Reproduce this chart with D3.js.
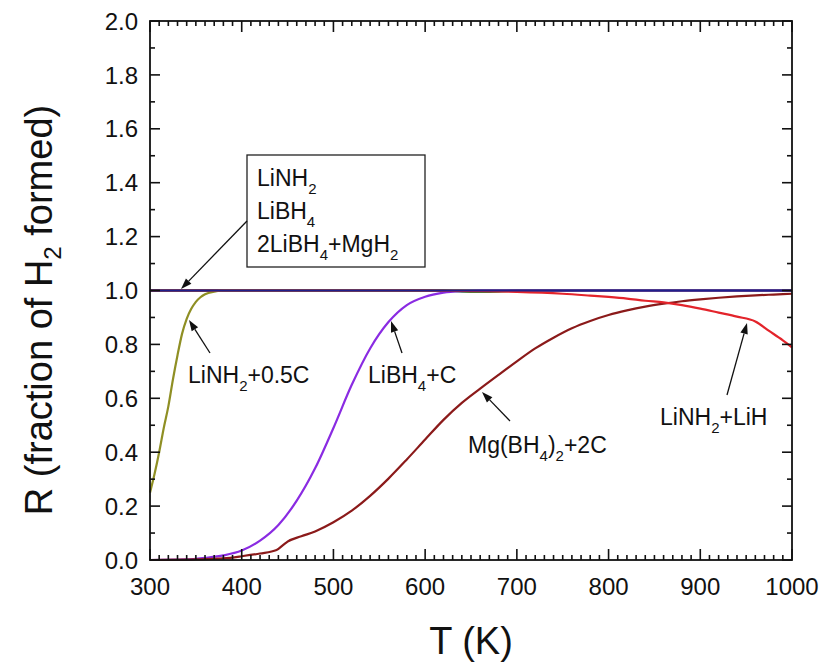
<!DOCTYPE html>
<html>
<head>
<meta charset="utf-8">
<script src="https://cdn.jsdelivr.net/npm/d3@7"></script>
<style>
  body { margin: 0; background: #fff; }
  svg { position: absolute; left: 0; top: 0; }
  text { font-family: "Liberation Sans", Arial, sans-serif; fill: #111; }
</style>
</head>
<body>
<svg id="chart"></svg>
<svg id="frame"></svg>
<script>
const width = 836;
const height = 664;
const margin = { top: 21, right: 44, bottom: 104, left: 150 };

// data
const xTicks = [300, 400, 500, 600, 700, 800, 900, 1000];
const yTicks = [0, 0.2, 0.4, 0.6, 0.8, 1.0, 1.2, 1.4, 1.6, 1.8, 2.0];

const tFlat = [300, 1000];
const rFlat = [1.0, 1.0];

const tGreen = [300, 620, 640, 660, 680, 700, 1000];
const rGreen = [1.0, 1.0, 0.996, 0.995, 0.996, 1.0, 1.0];

const tOlive = [300, 305, 310, 315, 320, 325, 330, 335, 340, 345, 350, 355, 360, 370, 380, 400, 1000];
const rOlive = [0.25, 0.32, 0.40, 0.49, 0.57, 0.67, 0.76, 0.84, 0.895, 0.932, 0.958, 0.975, 0.986, 0.996, 1.0, 1.0, 1.0];

const tPurple = [300, 340, 360, 380, 400, 420, 440, 460, 480, 500, 520, 540, 560, 580, 600, 620, 640, 660, 1000];
const rPurple = [0, 0.002, 0.008, 0.017, 0.035, 0.072, 0.13, 0.22, 0.34, 0.49, 0.65, 0.785, 0.883, 0.946, 0.977, 0.992, 0.998, 1.0, 1.0];

const tMaroon = [300, 350, 380, 400, 420, 438, 445, 450, 465, 480, 500, 520, 540, 560, 580, 600, 620, 640, 660, 680, 700, 720, 740, 760, 780, 800, 820, 840, 860, 880, 900, 920, 940, 960, 980, 1000];
const rMaroon = [0, 0.002, 0.006, 0.014, 0.024, 0.037, 0.055, 0.068, 0.088, 0.106, 0.14, 0.183, 0.238, 0.302, 0.373, 0.447, 0.52, 0.583, 0.636, 0.687, 0.737, 0.785, 0.825, 0.86, 0.887, 0.909, 0.926, 0.94, 0.951, 0.96, 0.967, 0.973, 0.978, 0.982, 0.985, 0.988];

const tRed = [300, 600, 650, 700, 750, 780, 800, 820, 840, 860, 880, 900, 920, 940, 960, 975, 990, 1000];
const rRed = [1.0, 1.0, 0.998, 0.995, 0.988, 0.981, 0.976, 0.97, 0.962, 0.956, 0.946, 0.933, 0.918, 0.903, 0.885, 0.85, 0.815, 0.789];

const series = [
    { t: tGreen, r: rGreen, color: "#2e8b3a" },
    { t: tFlat, r: rFlat, color: "#111111" },
    { t: tOlive, r: rOlive, color: "#8f8f24" },
    { t: tPurple, r: rPurple, color: "#8a2be2" },
    { t: tMaroon, r: rMaroon, color: "#8b1a1a" },
    { t: tRed, r: rRed, color: "#e3242b" },
    { t: tFlat, r: rFlat, color: "#1f1f8c" }
];

const svg = d3.select("#chart")
    .attr("width", width)
    .attr("height", height);

const x = d3.scaleLinear().domain([300, 1000]).range([margin.left, width - margin.right]);
const y = d3.scaleLinear().domain([0, 2]).range([height - margin.bottom, margin.top]);

const bottom = height - margin.bottom;
const right = width - margin.right;

// curves
const curve = d3.line()
    .x(d => x(d[0]))
    .y(d => y(d[1]))
    .curve(d3.curveMonotoneX);

svg.append("g")
    .selectAll("path")
    .data(series)
    .enter().append("path")
    .attr("d", s => curve(s.t.map((t, i) => [t, s.r[i]])))
    .attr("fill", "none")
    .attr("stroke", s => s.color)
    .attr("stroke-width", 2.2);

// tick labels
svg.append("g").selectAll("text")
    .data(xTicks).enter().append("text")
    .attr("x", d => x(d)).attr("y", bottom + 35)
    .attr("text-anchor", "middle")
    .style("font-size", "24px")
    .text(d => d);

svg.append("g").selectAll("text")
    .data(yTicks).enter().append("text")
    .attr("x", margin.left - 12).attr("y", d => y(d))
    .attr("dy", "0.36em")
    .attr("text-anchor", "end")
    .style("font-size", "24px")
    .text(d => d.toFixed(1));

// axis titles
svg.append("text")
    .attr("x", 471).attr("y", 654)
    .attr("text-anchor", "middle")
    .style("font-size", "38px")
    .text("T (K)");

const yTitle = svg.append("text")
    .attr("transform", "rotate(-90)")
    .attr("x", -310).attr("y", 52)
    .attr("text-anchor", "middle")
    .style("font-size", "38px");
yTitle.append("tspan").text("R (fraction of H");
yTitle.append("tspan").attr("dy", 9).style("font-size", "24px").text("2");
yTitle.append("tspan").attr("dy", -9).text(" formed)");

// chemical label: parts as [text, isSubscript]
function chem(g, parts, px, py) {
    const t = g.append("text").attr("x", px).attr("y", py).style("font-size", "23px");
    let low = false;
    parts.forEach(([s, sub]) => {
        const span = t.append("tspan").text(s);
        if (sub) span.style("font-size", "15px");
        if (sub && !low) span.attr("dy", 8);
        if (!sub && low) span.attr("dy", -8);
        low = sub;
    });
    return t;
}

const notes = svg.append("g");

notes.append("rect")
    .attr("x", 247).attr("y", 155)
    .attr("width", 178).attr("height", 112)
    .attr("fill", "#fff").attr("stroke", "#222").attr("stroke-width", 1.3);

chem(notes, [["LiNH", false], ["2", true]], 257, 186);
chem(notes, [["LiBH", false], ["4", true]], 257, 219);
chem(notes, [["2LiBH", false], ["4", true], ["+MgH", false], ["2", true]], 257, 252);

chem(notes, [["LiNH", false], ["2", true], ["+0.5C", false]], 188, 383);
chem(notes, [["LiBH", false], ["4", true], ["+C", false]], 368, 383);
chem(notes, [["Mg(BH", false], ["4", true], [")", false], ["2", true], ["+2C", false]], 468, 453);
chem(notes, [["LiNH", false], ["2", true], ["+LiH", false]], 660, 425);

const arrows = [
    [247, 221, 181, 289],
    [210, 353, 189, 320],
    [402, 353, 391, 321],
    [510, 421, 482, 392],
    [727, 395, 747, 323]
];

// arrow shafts stop at the head; heads are small filled triangles
function headPoints(d) {
    const dx = d[2] - d[0], dy = d[3] - d[1];
    const L = Math.hypot(dx, dy), ux = dx / L, uy = dy / L;
    const bx = d[2] - 11 * ux, by = d[3] - 11 * uy;
    return [[d[2], d[3]], [bx - 3.8 * uy, by + 3.8 * ux], [bx + 3.8 * uy, by - 3.8 * ux]];
}

notes.selectAll("line.arrow")
    .data(arrows).enter().append("line")
    .attr("class", "arrow")
    .attr("x1", d => d[0]).attr("y1", d => d[1])
    .attr("x2", d => headPoints(d)[1][0] * 0.5 + headPoints(d)[2][0] * 0.5)
    .attr("y2", d => headPoints(d)[1][1] * 0.5 + headPoints(d)[2][1] * 0.5)
    .attr("stroke", "#111").attr("stroke-width", 1.3);

notes.selectAll("polygon.head")
    .data(arrows).enter().append("polygon")
    .attr("class", "head")
    .attr("points", d => headPoints(d).map(p => p.join(",")).join(" "))
    .attr("fill", "#111");

// frame and inward ticks on all four sides, in their own overlay svg
const frame = d3.select("#frame")
    .attr("width", width)
    .attr("height", height)
    .style("pointer-events", "none");

const xMinor = d3.range(300, 1001, 10).filter(v => v % 100 !== 0);
const yMinor = d3.range(1, 20, 2).map(v => v / 10);

frame.append("rect")
    .attr("x", margin.left).attr("y", margin.top)
    .attr("width", right - margin.left).attr("height", bottom - margin.top)
    .attr("fill", "none").attr("stroke", "#111").attr("stroke-width", 1.8);

const tickData = [];
xTicks.forEach(v => tickData.push({ side: "x", v: v, len: 11 }));
xMinor.forEach(v => tickData.push({ side: "x", v: v, len: 5 }));
yTicks.forEach(v => tickData.push({ side: "y", v: v, len: 10 }));
yMinor.forEach(v => tickData.push({ side: "y", v: v, len: 5 }));

const tickLayer = frame.append("g");
tickLayer.selectAll("line.tkA")
    .data(tickData).enter().append("line")
    .attr("class", "tkA")
    .attr("x1", d => d.side === "x" ? x(d.v) : margin.left)
    .attr("x2", d => d.side === "x" ? x(d.v) : margin.left + d.len)
    .attr("y1", d => d.side === "x" ? bottom : y(d.v))
    .attr("y2", d => d.side === "x" ? bottom - d.len : y(d.v))
    .attr("stroke", "#111").attr("stroke-width", 1.6);
tickLayer.selectAll("line.tkB")
    .data(tickData).enter().append("line")
    .attr("class", "tkB")
    .attr("x1", d => d.side === "x" ? x(d.v) : right)
    .attr("x2", d => d.side === "x" ? x(d.v) : right - d.len)
    .attr("y1", d => d.side === "x" ? margin.top : y(d.v))
    .attr("y2", d => d.side === "x" ? margin.top + d.len : y(d.v))
    .attr("stroke", "#111").attr("stroke-width", 1.6);
</script>
</body>
</html>
